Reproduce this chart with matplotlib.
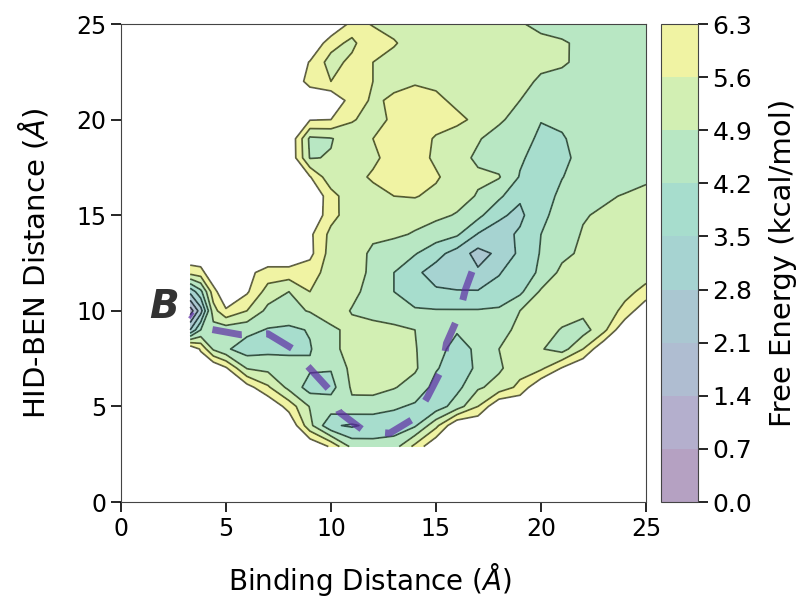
import numpy as np
import matplotlib
matplotlib.use('Agg')
import matplotlib.pyplot as plt

HI = 7.0  # above the top level -> left blank (white)

# grid of the free energy map (Angstrom)
binding = [3.3, 3.8, 4.4, 5, 6, 7, 8, 9, 10, 11, 12, 13, 14, 15, 16, 17, 18, 19,
           20, 21, 22, 23, 24, 25]
hidben = [2.9, 4, 5, 6, 7, 8, 9, 10, 11, 12, 13, 14, 15, 16, 17, 18, 19, 20,
          21, 22, 23, 24, 25]

# free energy (kcal/mol), one row per hidben value
fe_rows = [
    [HI] * 8 + [6.2, 4.7, 4.5, 4.6, 5.8] + [HI] * 11,
    [HI] * 7 + [5.1, 3.6, 3.4, 3.7, 3.8, 4.1, 5.4] + [HI] * 10,
    [HI] * 6 + [6.0, 4.85, 4.6, 4.75, 4.55, 4.3, 4.1, 3.8, 4.55, 5.6] + [HI] * 8,
    [HI] * 4 + [6.6, 5.7, 4.7, 3.9, 3.95, 5.0, 5.15, 4.95, 4.6, 4.0, 4.0, 4.8,
                5.15, 5.8] + [HI] * 6,
    [HI] * 3 + [6.4, 4.85, 4.7, 4.6, 4.3, 4.25, 5.1, 5.35, 5.3, 5.0, 4.25, 3.9,
                4.3, 4.8, 5.3, 5.45, 6.35] + [HI] * 4,
    [HI, 6.2, 4.8, 4.3, 3.85, 4.0, 4.0, 4.15, 4.75, 5.1, 5.3, 5.3, 4.95, 4.4,
     4.0, 4.3, 4.9, 5.2, 4.95, 4.6, 5.6, HI, HI, HI],
    [2.8, 4.2, 4.6, 4.5, 4.4, 4.15, 4.05, 4.25, 4.75, 5.1, 5.2, 5.1, 4.9, 4.5,
     4.25, 4.3, 4.55, 5.15, 5.2, 4.85, 4.6, 5.4, HI, HI],
    [1.0, 2.5, 5.3, 6.2, 5.6, 4.7, 4.7, 4.95, 5.3, 4.85, 4.6, 4.4, 4.3, 4.25,
     4.25, 4.25, 4.3, 4.9, 5.15, 5.2, 5.1, 5.3, 5.75, HI],
    [3.0, 4.0, 6.0, HI, 6.4, 5.3, 4.9, 5.6, 5.4, 5.1, 4.6, 4.2, 3.7, 3.6, 3.55,
     3.55, 3.75, 4.05, 5.0, 5.25, 5.3, 5.35, 5.45, 5.75],
    [5.85, 6.0, HI, HI, 6.5, 6.0, 6.0, 5.9, 5.3, 5.1, 4.8, 4.2, 3.65, 3.2, 3.0,
     2.9, 3.45, 3.9, 4.3, 5.1, 5.25, 5.3, 5.35, 5.4],
    [HI] * 7 + [6.5, 5.3, 5.15, 4.8, 4.55, 4.25, 3.75, 3.2, 2.55, 2.95, 3.65,
                4.25, 4.7, 5.05, 5.2, 5.25, 5.3],
    [HI] * 7 + [6.45, 5.4, 5.15, 5.0, 5.0, 4.85, 4.55, 4.3, 3.45, 3.25, 3.6,
                4.2, 4.6, 4.95, 5.1, 5.15, 5.2],
    [HI] * 8 + [5.85, 5.2, 5.2, 5.15, 5.1, 5.05, 4.85, 4.4, 3.6, 3.35, 4.05,
                4.45, 4.85, 5.0, 5.1, 5.1],
    [HI] * 8 + [5.9, 5.1, 5.35, 5.6, 5.65, 5.4, 5.15, 4.85, 4.35, 3.6, 3.9,
                4.35, 4.65, 4.8, 4.95, 5.05],
    [HI] * 7 + [6.35, 5.1, 5.35, 5.7, 5.9, 5.9, 5.7, 5.2, 5.0, 4.95, 4.15, 3.75,
                4.18, 4.45, 4.5, 4.6, 4.8],
    [HI] * 7 + [4.85, 4.95, 5.3, 5.45, 5.9, 5.95, 5.45, 5.1, 4.8, 4.6, 4.3, 3.9,
                4.05, 4.4, 4.4, 4.35, 4.3],
    [HI] * 7 + [4.75, 4.85, 5.3, 5.6, 5.95, 6.05, 5.5, 5.3, 4.95, 4.65, 4.4, 4.1,
                4.15, 4.4, 4.35, 4.3, 4.2],
    [HI] * 7 + [6.35, 6.3, 5.65, 5.4, 5.7, 6.05, 6.0, 5.75, 5.45, 5.0, 4.65,
                4.22, 4.3, 4.45, 4.4, 4.3, 4.25],
    [HI] * 9 + [5.95, 5.5, 5.7, 6.0, 5.75, 5.45, 5.3, 5.15, 4.9, 4.65, 4.55,
                4.5, 4.4, 4.35, 4.3],
    [HI] * 7 + [6.0, 5.6, 5.9, 5.6, 5.45, 5.5, 5.45, 5.5, 5.35, 5.25, 5.1, 4.8,
                4.65, 4.6, 4.5, 4.4, 4.35],
    [HI] * 7 + [6.25, 5.3, 5.8, 5.6, 5.4, 5.3, 5.3, 5.3, 5.25, 5.2, 5.1, 5.05,
                5.0, 4.7, 4.55, 4.45, 4.4],
    [HI] * 8 + [5.9, 5.4, 6.3, 5.65, 5.35, 5.3, 5.3, 5.3, 5.2, 5.1, 5.05, 4.98,
                4.75, 4.55, 4.5, 4.45],
    [HI] * 9 + [6.1, 5.5, 5.4, 5.3, 5.25, 5.2, 5.15, 5.05, 4.95, 4.75, 4.6,
                4.55, 4.5, 4.5, 4.5],
]

levels = [0.0, 0.7, 1.4, 2.1, 2.8, 3.5, 4.2, 4.9, 5.6, 6.3]

# minimum energy path B
path_x = [3.3, 4.2, 5.7, 7.0, 8.2, 8.9, 9.9, 10.4, 11.6, 12.8, 14.0, 14.6,
          15.3, 15.5, 16.1, 16.4, 16.9]
path_y = [9.8, 9.05, 8.75, 8.8, 8.0, 7.1, 5.9, 4.7, 3.7, 3.6, 4.4, 5.5,
          7.0, 8.3, 9.8, 11.1, 12.6]

fe = np.array(fe_rows)

fig = plt.figure(figsize=(8.06, 6.0), dpi=100)
ax = fig.add_axes([0.150, 0.1633, 0.6515, 0.7967])
cax = fig.add_axes([0.820, 0.1633, 0.0459, 0.7967])

cf = ax.contourf(binding, hidben, fe, levels=levels, cmap='viridis', alpha=0.4)
ax.contour(binding, hidben, fe, levels=levels, colors='k', linewidths=1.25,
           alpha=0.6)

ax.plot(path_x, path_y, color='#5e2ca5', alpha=0.7, lw=5,
        ls=(3.9, (4.3, 3.5)), dash_capstyle='butt')
ax.text(2.05, 10.2, 'B', fontsize=28, fontweight='bold', fontstyle='italic',
        color='#333333', ha='center', va='center')

ax.set_xlim(0, 25)
ax.set_ylim(0, 25)
ax.set_xticks([0, 5, 10, 15, 20, 25])
ax.set_yticks([0, 5, 10, 15, 20, 25])
ax.tick_params(labelsize=17, direction='out', length=7, width=1.2)
ax.set_xlabel(r'Binding Distance ($\mathit{Å}$)', fontsize=20)
ax.set_ylabel(r'HID-BEN Distance ($\mathit{Å}$)', fontsize=21)
ax.xaxis.set_label_coords(0.474, -0.123)
ax.yaxis.set_label_coords(-0.135, 0.5)
for s in ax.spines.values():
    s.set_color('#444444')

cb = fig.colorbar(cf, cax=cax, ticks=levels)
cb.ax.set_yticklabels([f'{v:.1f}' for v in levels])
cb.ax.tick_params(labelsize=18, length=7, width=1.2)
cb.set_label('Free Energy (kcal/mol)', fontsize=21, labelpad=12)
cb.outline.set_edgecolor('#444444')

fig.savefig('out.png', dpi=100)
